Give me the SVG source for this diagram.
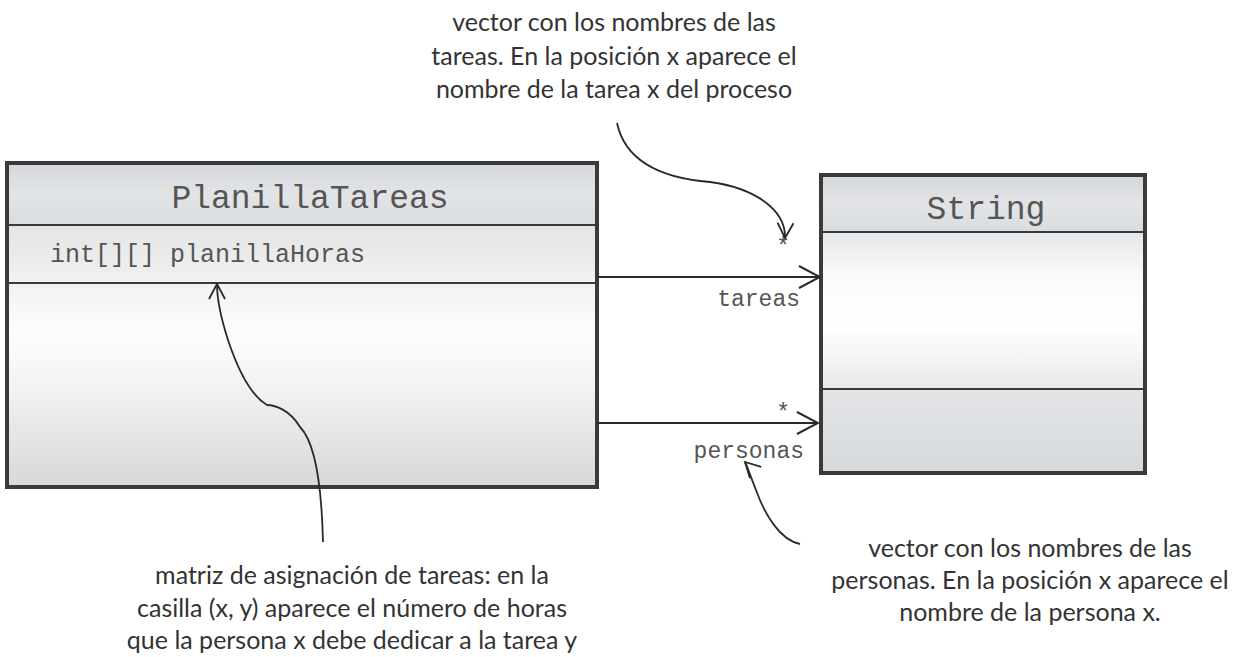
<svg xmlns="http://www.w3.org/2000/svg" width="1257" height="657" viewBox="0 0 1257 657">
<defs>
<style>
.outer{fill:none;stroke:#3a3a3a;stroke-width:4}
.div{stroke:#3a3a3a;stroke-width:2}
.mono{font-family:"Liberation Mono","DejaVu Sans Mono",monospace;fill:#555}
.title{font-size:33px;text-anchor:middle}
.attr{font-size:25px}
.lbl{font-size:23px;text-anchor:end}
.note{font-family:Lato,"Open Sans","Noto Sans",sans-serif;font-size:25px;fill:#333;text-anchor:middle}
.conn{fill:none;stroke:#2a2a2a;stroke-width:2}
.callout{fill:none;stroke:#2a2a2a;stroke-width:1.8}
</style>
<linearGradient id="hdr" x1="0" y1="0" x2="0" y2="1">
<stop offset="0" stop-color="#d4d7da"/><stop offset="0.5" stop-color="#e2e4e6"/><stop offset="1" stop-color="#dadde0"/>
</linearGradient>
<linearGradient id="attrg" x1="0" y1="0" x2="0" y2="1">
<stop offset="0" stop-color="#e2e4e6"/><stop offset="1" stop-color="#f1f1f1"/>
</linearGradient>
<linearGradient id="bodyL" x1="0" y1="0" x2="0" y2="1">
<stop offset="0" stop-color="#f2f2f2"/><stop offset="0.25" stop-color="#fdfdfd"/><stop offset="0.5" stop-color="#f3f3f3"/><stop offset="1" stop-color="#d6d8da"/>
</linearGradient>
<linearGradient id="bodyR" x1="0" y1="0" x2="0" y2="1">
<stop offset="0" stop-color="#e6e7e8"/><stop offset="0.3" stop-color="#fbfbfb"/><stop offset="0.6" stop-color="#ffffff"/><stop offset="1" stop-color="#e8e9ea"/>
</linearGradient>
<linearGradient id="botR" x1="0" y1="0" x2="0" y2="1">
<stop offset="0" stop-color="#e3e5e7"/><stop offset="1" stop-color="#d6d9dc"/>
</linearGradient>
<marker id="open" viewBox="0 0 24 24" refX="22" refY="12" markerWidth="24" markerHeight="24" markerUnits="userSpaceOnUse" orient="auto">
<path d="M1,1 L22,12 L1,23" fill="none" stroke="#2a2a2a" stroke-width="2"/>
</marker>
<marker id="openS" viewBox="0 0 18 18" refX="16" refY="9" markerWidth="18" markerHeight="18" markerUnits="userSpaceOnUse" orient="auto">
<path d="M1,1 L16,9 L1,17" fill="none" stroke="#2a2a2a" stroke-width="1.8"/>
</marker>
</defs>
<rect width="1257" height="657" fill="#ffffff"/>

<g id="PlanillaTareas">
<rect x="7" y="163" width="590" height="62" fill="url(#hdr)"/>
<rect x="7" y="225" width="590" height="58" fill="url(#attrg)"/>
<rect x="7" y="283" width="590" height="204" fill="url(#bodyL)"/>
<line class="div" x1="7" y1="225" x2="597" y2="225"/>
<line class="div" x1="7" y1="283" x2="597" y2="283"/>
<rect class="outer" x="7" y="163" width="590" height="324"/>
<text class="mono title" x="310" y="208">PlanillaTareas</text>
<text class="mono attr" x="50" y="262">int[][] planillaHoras</text>
</g>

<g id="String">
<rect x="821" y="175" width="324" height="57" fill="url(#hdr)"/>
<rect x="821" y="232" width="324" height="157" fill="url(#bodyR)"/>
<rect x="821" y="389" width="324" height="84" fill="url(#botR)"/>
<line class="div" x1="821" y1="232" x2="1145" y2="232"/>
<line class="div" x1="821" y1="389" x2="1145" y2="389"/>
<rect class="outer" x="821" y="175" width="324" height="298"/>
<text class="mono title" x="986" y="219">String</text>
</g>

<g id="connectors">
<line class="conn" x1="597" y1="277" x2="820" y2="277" marker-end="url(#open)"/>
<text class="mono lbl" x="800" y="306">tareas</text>
<text class="mono lbl" x="790" y="254">*</text>
<line class="conn" x1="597" y1="423" x2="818" y2="423" marker-end="url(#open)"/>
<text class="mono lbl" x="790" y="420">*</text>
<text class="mono lbl" x="804" y="458">personas</text>
</g>

<g id="callouts">
<path class="callout" d="M617,123 C625,160 660,178 710,182 C755,188 786,210 785,238" marker-end="url(#openS)"/>
<path class="callout" d="M323,542 C322,500 318,445 300,427 C290,410 275,405 267,405 C250,395 238,370 228,340 C220,315 217,295 217,284" marker-end="url(#openS)"/>
<path class="callout" d="M800,544 C780,540 765,515 756,490 C750,475 746,463 745,462" marker-end="url(#openS)"/>
</g>

<g id="notes">
<text class="note" x="614" y="31">vector con los nombres de las</text>
<text class="note" x="614" y="65">tareas. En la posición x aparece el</text>
<text class="note" x="614" y="98">nombre de la tarea x del proceso</text>
<text class="note" x="352" y="584">matriz de asignación de tareas: en la</text>
<text class="note" x="352" y="617">casilla (x, y) aparece el número de horas</text>
<text class="note" x="352" y="649">que la persona x debe dedicar a la tarea y</text>
<text class="note" x="1030" y="557">vector con los nombres de las</text>
<text class="note" x="1030" y="589">personas. En la posición x aparece el</text>
<text class="note" x="1030" y="621">nombre de la persona x.</text>
</g>
</svg>
